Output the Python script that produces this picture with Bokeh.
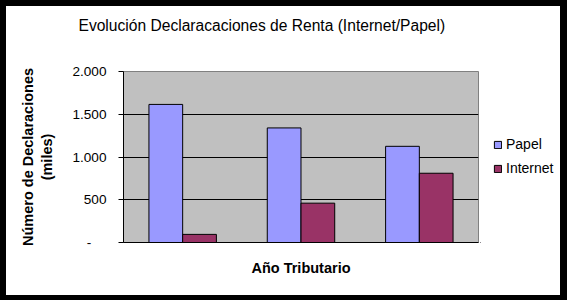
from bokeh.plotting import figure
from bokeh.models import (ColumnDataSource, FactorRange, FixedTicker, Legend, LegendItem, Title, Range1d)
from bokeh.transform import dodge
from bokeh.layouts import row, column
from bokeh.embed import file_html
from bokeh.resources import INLINE

# Data (values in thousands)
categories = ["1", "2", "3"]
papel = [1615, 1340, 1125]
internet = [95, 460, 810]
series_names = ["Papel", "Internet"]
series_colors = ["#9999FF", "#993366"]
y_ticks = [0, 500, 1000, 1500, 2000]
y_tick_labels = ["-\u00a0\u00a0\u00a0\u00a0", "500", "1.000", "1.500", "2.000"]

FONT = "Liberation Sans"

src = ColumnDataSource(dict(cat=categories, papel=papel, internet=internet))

p = figure(width=474, height=289, x_range=FactorRange(factors=categories, range_padding=0),
           y_range=(0, 2000), output_backend="svg", toolbar_location=None,
           min_border_left=117, min_border_right=2, min_border_top=63, min_border_bottom=53,
           background_fill_color="#C0C0C0", border_fill_color="white", title=None)
p.outline_line_color = "#808080"
p.outline_line_width = 1

bw = 0.285
p.vbar(x=dodge("cat", -bw/2, range=p.x_range), top="papel", width=bw, source=src,
       fill_color=series_colors[0], line_color="black", line_width=1)
p.vbar(x=dodge("cat", bw/2, range=p.x_range), top="internet", width=bw, source=src,
       fill_color=series_colors[1], line_color="black", line_width=1)

# spacer between frame and title, then the title itself
p.add_layout(Title(text=" ", text_font_size="1px", standoff=23), "above")
t = Title(text="Evolución Declaracaciones de Renta (Internet/Papel)", align="left",
          vertical_align="top", offset=-45, standoff=20, text_font=FONT,
          text_font_size="15.6px", text_font_style="normal", text_color="black")
p.add_layout(t, "above")

# x axis
p.xaxis.major_label_text_font_size = "0px"
p.xaxis.major_tick_line_color = None
p.xaxis.major_tick_out = 0
p.xaxis.major_tick_in = 0
p.xaxis.major_label_standoff = 0
p.xaxis.minor_tick_line_color = None
p.xaxis.axis_line_color = "black"
p.xaxis.axis_label = "Año Tributario"
p.xaxis.axis_label_standoff = 17
p.xaxis.axis_label_text_font = FONT
p.xaxis.axis_label_text_font_size = "14.5px"
p.xaxis.axis_label_text_font_style = "bold"
p.xaxis.axis_label_text_color = "black"
p.xgrid.grid_line_color = None

# y axis
p.yaxis.ticker = FixedTicker(ticks=y_ticks)
p.yaxis.major_label_overrides = {t_: l for t_, l in zip(y_ticks, y_tick_labels)}
p.yaxis.major_tick_out = 5
p.yaxis.major_tick_in = 0
p.yaxis.minor_tick_line_color = None
p.yaxis.axis_line_color = "black"
p.yaxis.major_tick_line_color = "black"
p.yaxis.major_label_standoff = 12
p.yaxis.major_label_text_font = FONT
p.yaxis.major_label_text_font_size = "13.6px"
p.yaxis.major_label_text_color = "black"
p.yaxis.axis_label = "Número de Declaraciones\n(miles)"
p.yaxis.axis_label_standoff = 14
p.yaxis.axis_label_text_font = FONT
p.yaxis.axis_label_text_font_size = "14.5px"
p.yaxis.axis_label_text_font_style = "bold"
p.yaxis.axis_label_text_color = "black"
p.ygrid.ticker = FixedTicker(ticks=[500, 1000, 1500])
p.ygrid.grid_line_color = "black"
p.ygrid.grid_line_width = 1

# legend panel (separate small figure to the right; zero-height swatch glyphs kept out of view)
pl = figure(width=80, height=289, output_backend="svg", toolbar_location=None,
            x_range=Range1d(5, 6), y_range=Range1d(5, 6),
            x_axis_location=None, y_axis_location=None,
            min_border_left=0, min_border_right=0, min_border_top=0, min_border_bottom=0,
            background_fill_color="white", border_fill_color="white", title=None)
pl.outline_line_color = None
pl.xgrid.visible = False
pl.ygrid.visible = False
items = []
for name, col in zip(series_names, series_colors):
    rr = pl.vbar(x=[0], top=[0], width=0.5, fill_color=col, line_color="black", line_width=1)
    items.append(LegendItem(label=name, renderers=[rr]))
legend = Legend(items=items, location=(13, 64), orientation="vertical",
                glyph_width=9, glyph_height=9, label_height=20, spacing=4,
                label_standoff=4, padding=0, margin=0,
                border_line_color=None, background_fill_alpha=0,
                label_text_font=FONT, label_text_font_size="14px", label_text_color="black")
pl.add_layout(legend)

inner = row(p, pl, styles={"background-color": "white"})
inner.margin = (6, 7, 5, 6)
layout = column(inner, styles={"background-color": "black"})

open("out.html", "w").write(file_html(layout, INLINE))
